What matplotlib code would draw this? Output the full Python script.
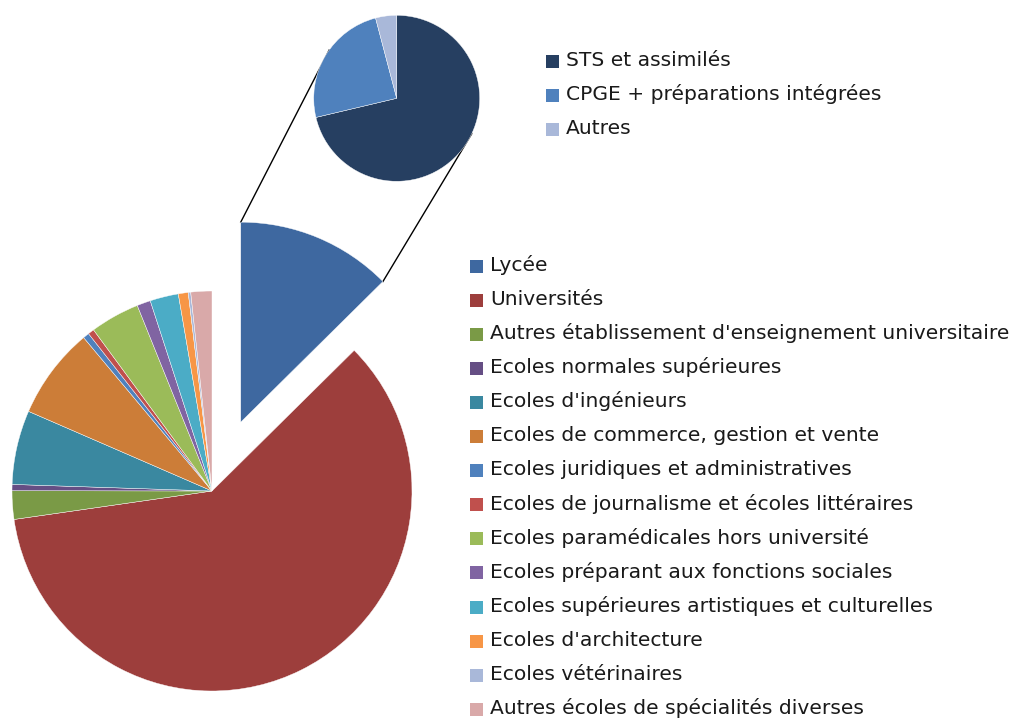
import numpy as np
import matplotlib
matplotlib.use("Agg")
import matplotlib.pyplot as plt
from matplotlib.patches import Rectangle

# ---- data ----
main_labels = [
    "Lycée",
    "Universités",
    "Autres établissement d'enseignement universitaire",
    "Ecoles normales supérieures",
    "Ecoles d'ingénieurs",
    "Ecoles de commerce, gestion et vente",
    "Ecoles juridiques et administratives",
    "Ecoles de journalisme et écoles littéraires",
    "Ecoles paramédicales hors université",
    "Ecoles préparant aux fonctions sociales",
    "Ecoles supérieures artistiques et culturelles",
    "Ecoles d'architecture",
    "Ecoles vétérinaires",
    "Autres écoles de spécialités diverses",
]
main_values = [12.6, 60.2, 2.3, 0.5, 6.0, 7.4, 0.5, 0.5, 4.0, 1.1, 2.3, 0.8, 0.2, 1.7]

sub_labels = ["STS et assimilés", "CPGE + préparations intégrées", "Autres"]
sub_values = [71.3, 24.6, 4.1]

# ---- styles ----
main_colors = ["#3E68A0", "#9D3E3C", "#7A9A46", "#654E84", "#3A88A0", "#CC7D38",
               "#4F81BD", "#C0504D", "#9BBB59", "#8064A2", "#4BACC6", "#F79646",
               "#A9B8D9", "#D9A9A9"]
sub_colors = ["#263F61", "#4F81BD", "#A9B8D9"]

plt.rcParams['font.family'] = ['DejaVu Sans']

fig = plt.figure(figsize=(10.18, 7.2), dpi=100)
ax = fig.add_axes([0, 0, 1, 1])

H = 720
main_center = (212, H - 491)
main_r = 200
explode = [74.6] + [0] * (len(main_values) - 1)

wedges, _ = ax.pie(main_values, colors=main_colors, startangle=90, counterclock=False,
                   center=main_center, radius=main_r, explode=explode,
                   wedgeprops=dict(linewidth=0.3, edgecolor="white"))

sub_center = (396.7, H - 98.3)
sub_r = 83
sub_wedges, _ = ax.pie(sub_values, colors=sub_colors, startangle=90, counterclock=False,
                       center=sub_center, radius=sub_r,
                       wedgeprops=dict(linewidth=0.3, edgecolor="white"))

# connector lines: from the exploded slice corners to the second pie
lw = wedges[0]
cx, cy = lw.center
p_top = (cx + lw.r * np.cos(np.radians(lw.theta2)), cy + lw.r * np.sin(np.radians(lw.theta2)))
p_right = (cx + lw.r * np.cos(np.radians(lw.theta1)), cy + lw.r * np.sin(np.radians(lw.theta1)))
for p, ang in [(p_top, 144.4), (p_right, -25.3)]:
    q = (sub_center[0] + sub_r * np.cos(np.radians(ang)), sub_center[1] + sub_r * np.sin(np.radians(ang)))
    ax.plot([p[0], q[0]], [p[1], q[1]], color="black", lw=1.0, zorder=0)

# legends
def draw_legend(labels, colors, x_box, y_first, dy, fs):
    for i, (lab, col) in enumerate(zip(labels, colors)):
        yc = H - (y_first + i * dy)
        ax.add_patch(Rectangle((x_box, yc - 6.5), 13, 13, facecolor=col, edgecolor="none"))
        ax.text(x_box + 20, yc + 1, lab, fontsize=fs, va="center", ha="left", color="#1a1a1a")

draw_legend(main_labels, main_colors, 470, 266, 34.1, 14.6)
draw_legend(sub_labels, sub_colors, 546, 61, 34.0, 14.6)

ax.set_xlim(0, 1018)
ax.set_ylim(0, H)
ax.set_aspect("equal")
ax.axis("off")
fig.savefig("out.png", dpi=100)
